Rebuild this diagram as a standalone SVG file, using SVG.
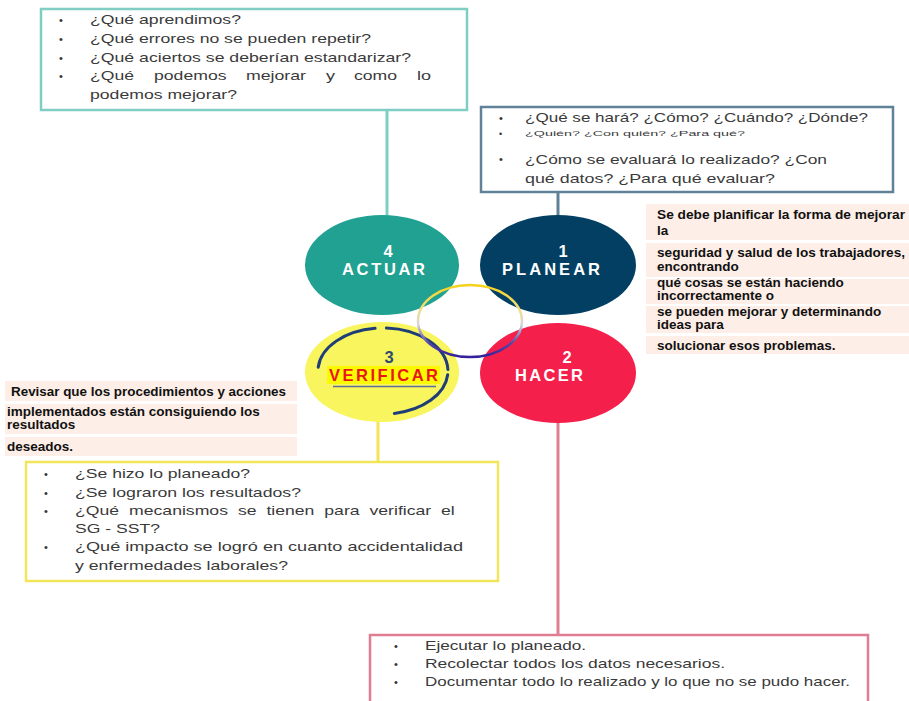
<svg xmlns="http://www.w3.org/2000/svg" width="909" height="701" viewBox="0 0 909 701">
<defs>
<linearGradient id="ringGrad" x1="0" y1="0" x2="0" y2="1">
<stop offset="0" stop-color="#f6d21c"/>
<stop offset="0.35" stop-color="#efe08a"/>
<stop offset="0.55" stop-color="#d8d6dc"/>
<stop offset="0.8" stop-color="#5a47a8"/>
<stop offset="1" stop-color="#33209a"/>
</linearGradient>
</defs>
<style>
.q{font-family:"Liberation Sans",Arial,sans-serif;font-size:13.5px;fill:#3a3a3a}
.bul{font-family:"Liberation Sans",Arial,sans-serif;font-size:11px;fill:#333}
.b{font-family:"Liberation Sans",Arial,sans-serif;font-size:13.5px;font-weight:bold;fill:#111}
.row{fill:#fdeee7}
.ct{font-family:"Liberation Sans",Arial,sans-serif;font-size:16.5px;font-weight:bold;fill:#fff}
.box{fill:#fff;stroke-width:2.5}
.con{stroke-width:3;fill:none}
.arc{fill:none;stroke:#1f3e78;stroke-width:3;stroke-linecap:round}
</style>
<rect width="909" height="701" fill="#fff"/>

<g id="connectors">
<line class="con" x1="387" y1="110" x2="387" y2="217" stroke="#80cec3"/>
<line class="con" x1="558" y1="192" x2="558" y2="217" stroke="#5f8299"/>
<line class="con" x1="378" y1="421" x2="378" y2="462" stroke="#f3e55a"/>
<line class="con" x1="558" y1="422" x2="558" y2="635" stroke="#df7e93"/>
</g>

<g id="box-actuar">
<rect class="box" x="41" y="9" width="426" height="101" stroke="#80cec3"/>
<text class="bul" x="59" y="24">•</text>
<text class="bul" x="59" y="43">•</text>
<text class="bul" x="59" y="62">•</text>
<text class="bul" x="59" y="80">•</text>
<text class="q" x="90" y="24" textLength="151" lengthAdjust="spacingAndGlyphs">¿Qué aprendimos?</text>
<text class="q" x="90" y="43" textLength="281" lengthAdjust="spacingAndGlyphs">¿Qué errores no se pueden repetir?</text>
<text class="q" x="90" y="62" textLength="321" lengthAdjust="spacingAndGlyphs">¿Qué aciertos se deberían estandarizar?</text>
<text class="q" x="90" y="80" textLength="44" lengthAdjust="spacingAndGlyphs">¿Qué</text>
<text class="q" x="154" y="80" textLength="72.5" lengthAdjust="spacingAndGlyphs">podemos</text>
<text class="q" x="246" y="80" textLength="60" lengthAdjust="spacingAndGlyphs">mejorar</text>
<text class="q" x="326" y="80" textLength="9" lengthAdjust="spacingAndGlyphs">y</text>
<text class="q" x="354" y="80" textLength="43" lengthAdjust="spacingAndGlyphs">como</text>
<text class="q" x="417" y="80" textLength="14" lengthAdjust="spacingAndGlyphs">lo</text>
<text class="q" x="90" y="99" textLength="147" lengthAdjust="spacingAndGlyphs">podemos mejorar?</text>
</g>

<g id="box-planear">
<rect class="box" x="481" y="107" width="412" height="85" stroke="#5f8299"/>
<text class="bul" x="499" y="122">•</text>
<text class="bul" x="499" y="137" style="font-size:9px">•</text>
<text class="bul" x="499" y="163">•</text>
<text class="q" x="525" y="122" textLength="343" lengthAdjust="spacingAndGlyphs">¿Qué se hará? ¿Cómo? ¿Cuándo? ¿Dónde?</text>
<text class="q" x="525" y="136" style="font-size:8px" textLength="220" lengthAdjust="spacingAndGlyphs">¿Quién? ¿Con quién? ¿Para qué?</text>
<text class="q" x="525" y="164" textLength="302" lengthAdjust="spacingAndGlyphs">¿Cómo se evaluará lo realizado? ¿Con</text>
<text class="q" x="525" y="183" textLength="250" lengthAdjust="spacingAndGlyphs">qué datos? ¿Para qué evaluar?</text>
</g>

<g id="text-planear">
<rect class="row" x="646" y="204" width="263" height="36"/>
<rect class="row" x="646" y="243" width="263" height="34"/>
<rect class="row" x="646" y="279" width="263" height="25"/>
<rect class="row" x="646" y="306" width="263" height="27"/>
<rect class="row" x="646" y="336" width="263" height="18"/>
<text class="b" x="657" y="219" textLength="248" lengthAdjust="spacingAndGlyphs">Se debe planificar la forma de mejorar</text>
<text class="b" x="657" y="235">la</text>
<text class="b" x="657" y="257" textLength="248" lengthAdjust="spacingAndGlyphs">seguridad y salud de los trabajadores,</text>
<text class="b" x="657" y="271">encontrando</text>
<text class="b" x="657" y="287">qué cosas se están haciendo</text>
<text class="b" x="657" y="300">incorrectamente o</text>
<text class="b" x="657" y="316">se pueden mejorar y determinando</text>
<text class="b" x="657" y="329">ideas para</text>
<text class="b" x="657" y="350">solucionar esos problemas.</text>
</g>

<g id="node-actuar">
<ellipse cx="382" cy="265" rx="77" ry="50" fill="#20a192"/>
<text class="ct" x="388" y="257" text-anchor="middle">4</text>
<text class="ct" x="342" y="275" textLength="83" lengthAdjust="spacing">ACTUAR</text>
</g>

<g id="node-planear">
<ellipse cx="558" cy="265" rx="78" ry="50" fill="#033f63"/>
<text class="ct" x="563" y="257" text-anchor="middle">1</text>
<text class="ct" x="502" y="275" textLength="98" lengthAdjust="spacing">PLANEAR</text>
</g>

<g id="node-verificar">
<ellipse cx="382" cy="372" rx="77" ry="50" fill="#f8f55e"/>
<path class="arc" d="M318.2,367.3 A65,43 0 0 1 375.1,328.3"/>
<path class="arc" d="M386.4,328.1 A65,43 0 0 1 447.9,369.5"/>
<path class="arc" d="M447.7,374.7 A65,43 0 0 1 394.3,413.4"/>
<text class="ct" x="389" y="363" text-anchor="middle" style="fill:#2e4a6e">3</text>
<rect x="327" y="366" width="113" height="18" fill="#fbfa00"/>
<text class="ct" x="329" y="381" textLength="109" lengthAdjust="spacing" style="fill:#e8161b">VERIFICAR</text>
<line x1="333" y1="386.5" x2="436" y2="386.5" stroke="#5c7090" stroke-width="1.5"/>
</g>

<g id="node-hacer">
<ellipse cx="558" cy="373" rx="78" ry="50" fill="#f41f4b"/>
<text class="ct" x="567" y="363" text-anchor="middle">2</text>
<text class="ct" x="515" y="381" textLength="68" lengthAdjust="spacing">HACER</text>
</g>

<g id="center-ring">
<ellipse cx="470" cy="321" rx="52" ry="36" fill="none" stroke="url(#ringGrad)" stroke-width="2.5"/>
</g>

<g id="text-verificar">
<rect class="row" x="5" y="381" width="292" height="20"/>
<rect class="row" x="5" y="404" width="292" height="30"/>
<rect class="row" x="5" y="437" width="292" height="19"/>
<text class="b" x="11" y="396" textLength="275" lengthAdjust="spacingAndGlyphs">Revisar que los procedimientos y acciones</text>
<text class="b" x="7" y="416">implementados están consiguiendo los</text>
<text class="b" x="7" y="429">resultados</text>
<text class="b" x="7" y="451">deseados.</text>
</g>

<g id="box-verificar">
<rect class="box" x="26" y="462" width="472" height="119" stroke="#f3e55a"/>
<text class="bul" x="44" y="478">•</text>
<text class="bul" x="44" y="497">•</text>
<text class="bul" x="44" y="515">•</text>
<text class="bul" x="44" y="551">•</text>
<text class="q" x="75" y="478" textLength="175" lengthAdjust="spacingAndGlyphs">¿Se hizo lo planeado?</text>
<text class="q" x="75" y="497" textLength="226" lengthAdjust="spacingAndGlyphs">¿Se lograron los resultados?</text>
<text class="q" x="75" y="515" textLength="44" lengthAdjust="spacingAndGlyphs">¿Qué</text>
<text class="q" x="129" y="515" textLength="99" lengthAdjust="spacingAndGlyphs">mecanismos</text>
<text class="q" x="238" y="515" textLength="18.6" lengthAdjust="spacingAndGlyphs">se</text>
<text class="q" x="266.4" y="515" textLength="48" lengthAdjust="spacingAndGlyphs">tienen</text>
<text class="q" x="324.3" y="515" textLength="35.3" lengthAdjust="spacingAndGlyphs">para</text>
<text class="q" x="369.5" y="515" textLength="61.7" lengthAdjust="spacingAndGlyphs">verificar</text>
<text class="q" x="441" y="515" textLength="13.7" lengthAdjust="spacingAndGlyphs">el</text>
<text class="q" x="75" y="533" textLength="85" lengthAdjust="spacingAndGlyphs">SG - SST?</text>
<text class="q" x="75" y="551" textLength="388" lengthAdjust="spacingAndGlyphs">¿Qué impacto se logró en cuanto accidentalidad</text>
<text class="q" x="75" y="570" textLength="213" lengthAdjust="spacingAndGlyphs">y enfermedades laborales?</text>
</g>

<g id="box-hacer">
<rect class="box" x="370" y="635" width="498" height="90" stroke="#df7e93"/>
<text class="bul" x="394" y="650">•</text>
<text class="bul" x="394" y="668">•</text>
<text class="bul" x="394" y="686">•</text>
<text class="q" x="425" y="650" textLength="161" lengthAdjust="spacingAndGlyphs">Ejecutar lo planeado.</text>
<text class="q" x="425" y="668" textLength="300" lengthAdjust="spacingAndGlyphs">Recolectar todos los datos necesarios.</text>
<text class="q" x="425" y="686" textLength="425" lengthAdjust="spacingAndGlyphs">Documentar todo lo realizado y lo que no se pudo hacer.</text>
</g>
</svg>
